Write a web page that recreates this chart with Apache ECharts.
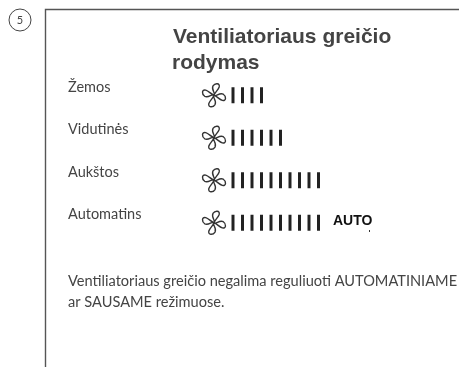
<!DOCTYPE html>
<html>
<head>
<meta charset="utf-8">
<style>html,body{margin:0;padding:0;background:#fff}#main{width:459px;height:367px}</style>
<script src="https://cdn.jsdelivr.net/npm/echarts@6/dist/echarts.min.js"></script>
</head>
<body>
<div id="main"></div>
<script>
var speeds = ["Žemos", "Vidutinės", "Aukštos", "Automatins"];
var barCounts = [4, 6, 10, 10];
var titleLines = ["Ventiliatoriaus greičio", "rodymas"];
var noteLines = ["Ventiliatoriaus greičio negalima reguliuoti AUTOMATINIAME", "ar SAUSAME režimuose."];
var fanSlot = 0, firstBarSlot = 2;

//one blade of the fan, the other three are turned from it
function fanPath(){
	var blade = [[0,0],[2,-2],[-3,-5],[-1,-9],[1,-12],[6,-12],[5,-8],[4,-5],[1,-3],[0,0]];
	var d = "";
	for(var r=0;r<4;r++){
		var p = blade.map(function(b){
			var x=b[0], y=b[1];
			for(var k=0;k<r;k++){ var t=x; x=-y; y=t; }
			return (x+12)+" "+(y+12);
		});
		d += (r==0?"M":"L")+p[0];
		for(var i=1;i<p.length;i+=3){
			d += "C"+p[i]+" "+p[i+1]+" "+p[i+2];
		}
	}
	return "path://"+d+"Z";
}

var fanData = [], barData = [];
speeds.forEach(function(s,i){
	fanData.push([fanSlot, s]);
	for(var n=0;n<barCounts[i];n++){
		barData.push([firstBarSlot+n, s]);
	}
});

var bodyFont = "Lato";
var textColor = "#444";
var chart = echarts.init(document.getElementById("main"));
chart.setOption({
	animation: false,
	grid: {left: 214, top: 74, width: 114, height: 170},
	xAxis: {type: "value", min: 0, max: 12, show: false},
	yAxis: {
		type: "category", data: speeds, inverse: true,
		axisLine: {show: false}, axisTick: {show: false},
		axisLabel: {
			align: "left", margin: 146, color: textColor,
			fontFamily: bodyFont, fontSize: 14.5, verticalAlign: "bottom", lineHeight: 16
		}
	},
	series: [
		{type: "scatter", data: fanData, symbol: fanPath(), symbolSize: 23,
			itemStyle: {color: "none", borderColor: "#333", borderWidth: 1.4, opacity: 1}},
		{type: "scatter", data: barData, symbol: "rect", symbolSize: [3, 16],
			itemStyle: {color: "#222", opacity: 1}}
	],
	graphic: [
		{type: "polyline", shape: {points: [[45.5,367],[45.5,9.5],[459,9.5]]},
			style: {fill: null, stroke: "#555", lineWidth: 1.4}},
		{type: "circle", shape: {cx: 20, cy: 20, r: 11},
			style: {fill: "#fff", stroke: "#444", lineWidth: 1}},
		{type: "text", x: 20, y: 20, style: {text: "5", fill: textColor, font: "11px Lato", align: "center", verticalAlign: "middle"}},
		{type: "text", x: 173, y: 37, style: {text: titleLines[0], fill: textColor, font: "bold 21px 'Liberation Sans'", verticalAlign: "middle"}},
		{type: "text", x: 172, y: 63, style: {text: titleLines[1], fill: textColor, font: "bold 21px 'Liberation Sans'", verticalAlign: "middle"}},
		{type: "text", x: 333, y: 221, style: {text: "AUTO", fill: "#111", font: "bold 14px 'Liberation Sans'", verticalAlign: "middle"}},
		{type: "line", shape: {x1: 369.5, y1: 230, x2: 369.5, y2: 232}, style: {stroke: "#333", lineWidth: 1}},
		{type: "text", x: 68, y: 281, style: {text: noteLines[0], fill: textColor, font: "14.6px "+bodyFont, verticalAlign: "middle"}},
		{type: "text", x: 68, y: 302, style: {text: noteLines[1], fill: textColor, font: "14.6px "+bodyFont, verticalAlign: "middle"}}
	]
});
</script>
</body>
</html>
